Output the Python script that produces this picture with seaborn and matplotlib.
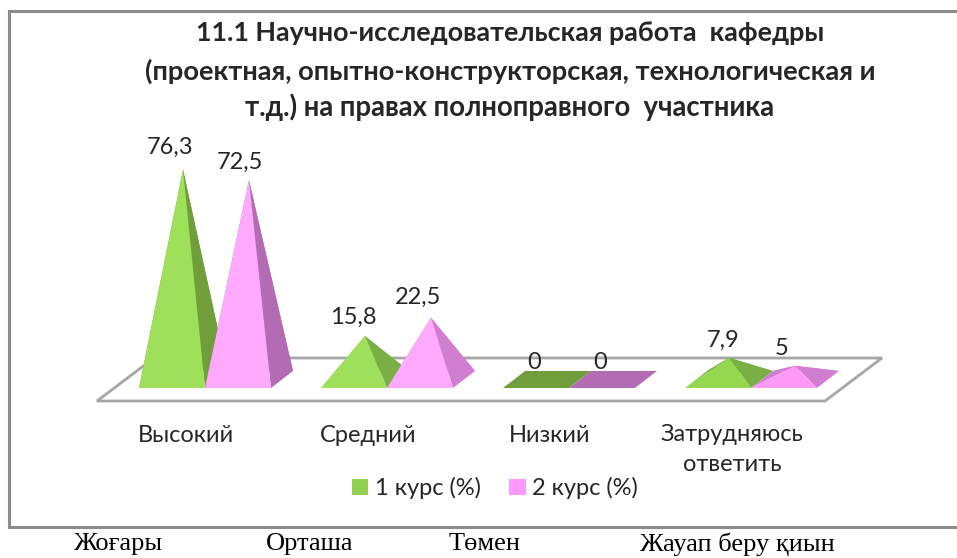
import matplotlib
matplotlib.use("Agg")
import matplotlib.pyplot as plt
import pandas as pd
import seaborn as sns
from matplotlib.patches import Patch

categories = ["Высокий", "Средний", "Низкий", "Затрудняюсь\nответить"]
kz_labels = ["Жоғары", "Орташа", "Төмен", "Жауап беру қиын"]
series_names = ["1 курс (%)", "2 курс (%)"]
course1 = [76.3, 15.8, 0, 7.9]
course2 = [72.5, 22.5, 0, 5]
title_lines = [
    "11.1 Научно-исследовательская работа  кафедры",
    "(проектная, опытно-конструкторская, технологическая и",
    "т.д.) на правах полноправного  участника",
]

W, H = 957, 558
PX_X = 182.0   # pixels per category
PX_Y = 2.75    # pixels per percent
ORIGIN_X, ORIGIN_Y = 205, 388

sns.set_theme(style="white")
plt.rcParams["font.family"] = ["Lato", "Open Sans", "DejaVu Sans"]
TEXT = "#262626"


def fx(px):
    return (px - ORIGIN_X) / PX_X


def fy(py):
    return (ORIGIN_Y - py) / PX_Y


df = pd.DataFrame({
    "cat": categories * 2,
    "val": course1 + course2,
    "course": [series_names[0]] * 4 + [series_names[1]] * 4,
})

fig = plt.figure(figsize=(W / 100, H / 100), dpi=100)
ax = fig.add_axes([0, 0, 1, 1])
sns.barplot(data=df, x="cat", y="val", hue="course", width=0.725, gap=0,
            legend=False, ax=ax, order=categories, hue_order=series_names)
ax.set_xlim(fx(0), fx(W))
ax.set_ylim(fy(H), fy(0))
ax.axis("off")

# outer frame of the pasted chart, open on the right
ax.plot([fx(W), fx(9), fx(9), fx(W)], [fy(11), fy(11), fy(527), fy(527)],
        color="#8c8c8c", lw=2.2, solid_joinstyle="miter", zorder=1)

# floor
dep_x, dep_y = 22 / PX_X, 17 / PX_Y
fl_front, fl_back = -13 / PX_Y, 30 / PX_Y
fl_shift = -17 / PX_X
fl_back_shift = 57 / PX_X
ax.fill([-0.5 + fl_shift, 3.5 + fl_shift, 3.5 + fl_shift + fl_back_shift, -0.5 + fl_shift + fl_back_shift],
        [fl_front, fl_front, fl_back, fl_back],
        fc="white", ec="#a6a6a6", lw=2, zorder=2)

colors = [
    {"front": "#9fe05a", "side": "#6f9e3a", "low_front": "#94d850", "low_side": "#79af44"},
    {"front": "#ffaaff", "side": "#b36cb3", "low_front": "#ff99f8", "low_side": "#d07fd0"},
]
label_nudge = {(0, 0): (0, 5), (0, 1): (1, 2), (1, 1): (0, 3), (0, 3): (7, 0), (1, 0): (4, 1)}

z = 3
for s, cont in enumerate(ax.containers):
    for i, bar in enumerate(cont):
        bar.set_visible(False)
        x0 = bar.get_x()
        w = bar.get_width()
        v = bar.get_height()
        x1 = x0 + w
        ax_, ay_ = x0 + w / 2 + dep_x / 2, v + dep_y / 2
        c = colors[s]
        front = c["low_front"] if v < 10 else c["front"]
        side = c["low_side"] if v < 25 and v > 0 else c["side"]
        if v == 0:
            ax.fill([x0, x1, x1 + dep_x, x0 + dep_x], [0, 0, dep_y, dep_y],
                    fc=side, ec="none", zorder=z)
        else:
            ax.fill([x0, x0 + dep_x, ax_], [0, dep_y, ay_], fc=side, ec="none", zorder=z)
            ax.fill([x0 + dep_x, x1 + dep_x, ax_], [dep_y, dep_y, ay_], fc=side, ec="none", zorder=z)
            ax.fill([x1, x1 + dep_x, ax_], [0, dep_y, ay_], fc=side, ec="none", zorder=z)
            ax.fill([x0, x1, ax_], [0, 0, ay_], fc=front, ec="none", zorder=z)
        z += 1
        nudge = label_nudge.get((s, i), (0, 0))
        txt = f"{v:g}".replace(".", ",")
        ax.annotate(txt, (ax_, ay_), xytext=((-13 + nudge[0]) * 0.72, (17 + nudge[1]) * 0.72),
                    textcoords="offset points", ha="center", va="center",
                    fontsize=17, color=TEXT, zorder=20)

# category labels
for i, cat in enumerate(categories):
    two_lines = "\n" in cat
    ax.text(i - 19 / PX_X, fy(424) if two_lines else fy(435), cat, ha="center",
            va="top" if two_lines else "center", fontsize=17, color=TEXT, linespacing=1.55)

# title
for line, cx, py, size in zip(title_lines, [510, 510, 510], [33, 71, 107], [19.4, 19.6, 19.8]):
    ax.text(fx(cx), fy(py), line, ha="center", va="center", fontsize=size,
            fontweight="bold", color=TEXT)

handles = [Patch(fc="#92d050", ec="none"), Patch(fc="#ff99ff", ec="none")]
ax.legend(handles, series_names, ncol=2, loc="center", bbox_to_anchor=(495 / W, 1 - 488 / H),
          frameon=False, fontsize=17, handlelength=0.7, handleheight=0.7,
          columnspacing=1.2, handletextpad=0.28, labelcolor=TEXT)

# kazakh labels under the frame
for lab, px in zip(kz_labels, [74, 266, 449, 640]):
    ax.text(fx(px), fy(544), lab, ha="left", va="center", fontsize=19,
            family="Liberation Serif", color="black")

fig.savefig("out.png", dpi=100, facecolor="white")
